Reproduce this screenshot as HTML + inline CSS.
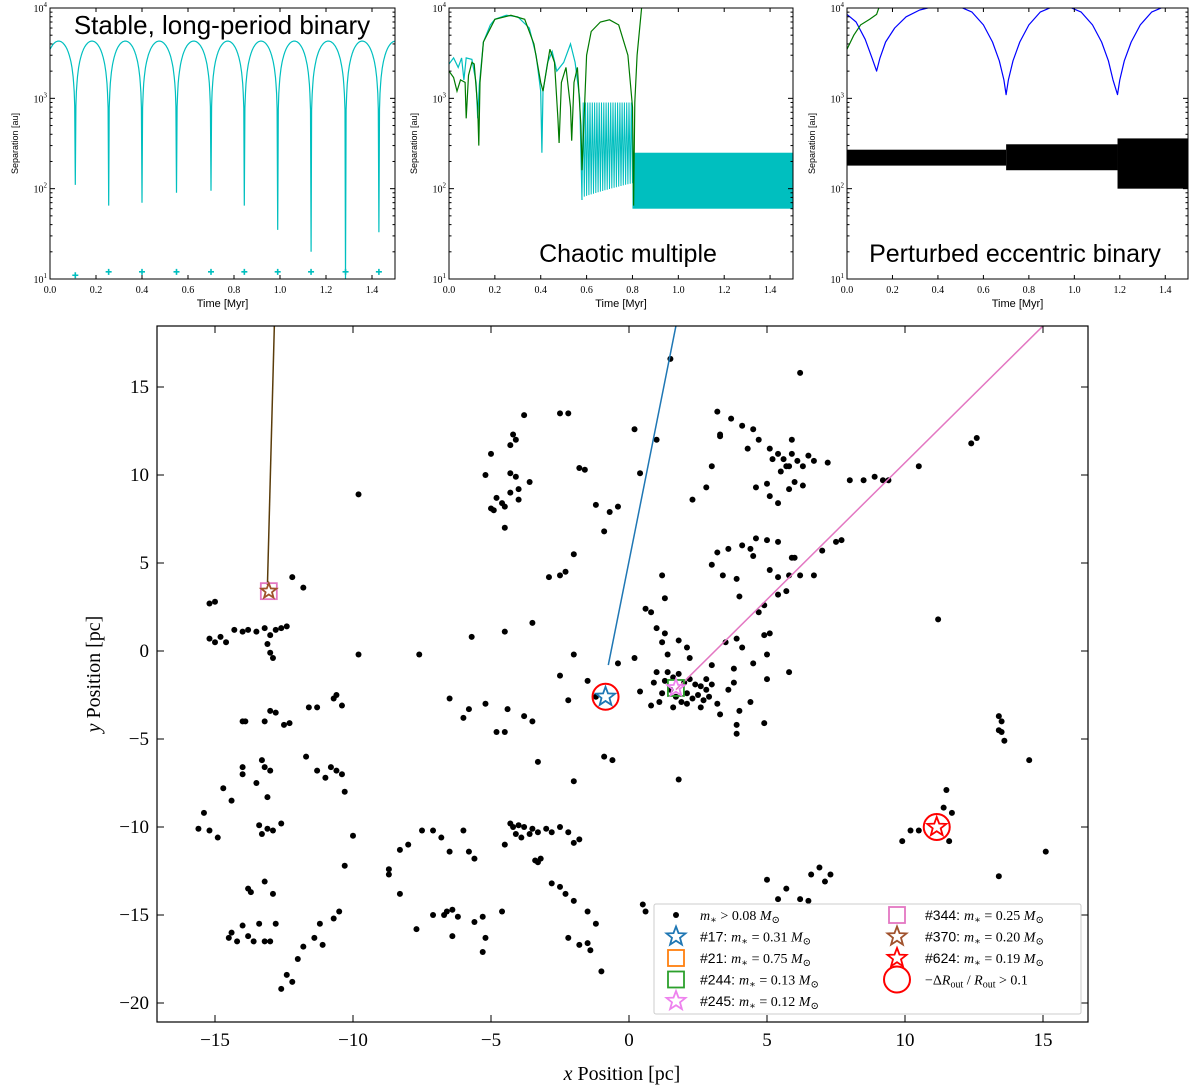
<!DOCTYPE html>
<html><head><meta charset="utf-8"><style>
body{margin:0;background:#fff}
svg{display:block}
.serif{font-family:"Liberation Serif","DejaVu Serif",serif}
.sans{font-family:"Liberation Sans","DejaVu Sans",sans-serif}
</style></head><body>
<svg id="fig" width="1200" height="1087" viewBox="0 0 1200 1087" xmlns="http://www.w3.org/2000/svg"></svg>
<script>
// ---------- data ----------
const p1MinTimes=[0.11,0.255,0.40,0.55,0.70,0.845,0.99,1.135,1.285,1.43];
const p1MinVals=[110,65,70,90,95,65,35,20,10,33];
const p1Max=4300;
const p1PlusVals=[11,12,12,12,12,12,12,12,12,12];
const p2CyanT=[0,0.02,0.04,0.055,0.065,0.075,0.1,0.118,0.125,0.132,0.15,0.18,0.2,0.25,0.3,0.35,0.38,0.4,0.405,0.41,0.43,0.45,0.47,0.5,0.53,0.55,0.57,0.58];
const p2CyanV=[2400,2800,2200,2800,1600,2800,2700,1500,600,1400,4200,6500,7500,8300,8000,6000,3000,1200,250,1200,2500,3300,2000,2500,4000,2500,1000,75];
const p2GreenT=[0,0.02,0.035,0.05,0.07,0.075,0.085,0.1,0.11,0.125,0.13,0.135,0.15,0.2,0.27,0.33,0.37,0.4,0.41,0.44,0.46,0.475,0.48,0.49,0.51,0.53,0.535,0.545,0.56,0.575,0.58,0.6,0.62,0.66,0.7,0.74,0.78,0.8,0.805,0.81,0.82,0.84];
const p2GreenV=[2000,1700,1200,1600,1500,600,1800,2500,2400,800,300,1500,4200,7500,8300,7500,4000,1500,1200,3500,2500,600,320,1500,2200,800,340,1500,2200,500,160,3000,5500,7000,7400,6500,3000,800,65,900,3000,10000];
const p2OscStart=0.58,p2OscEnd=0.8,p2OscCount=22,p2OscTop=900,p2OscBase0=80,p2OscBase1=115;
const p2BandT=[0.8,1.5],p2BandV=[60,250];
const p3BlueT=[0,0.04,0.08,0.11,0.13,0.145,0.17,0.21,0.26,0.32,0.37,0.5,0.55,0.6,0.64,0.67,0.69,0.70,0.71,0.73,0.76,0.8,0.85,0.9,0.98,1.03,1.08,1.12,1.15,1.17,1.19,1.20,1.22,1.25,1.29,1.34,1.39,1.5];
const p3BlueV=[8500,7000,4500,2800,2000,2800,4200,6000,8000,9500,10200,10200,9000,6500,4200,2600,1600,1100,1600,2600,4200,6500,9000,10200,10200,9000,6500,4200,2600,1600,1100,1600,2600,4200,6500,9000,10200,10200];
const p3GreenT=[0,0.03,0.06,0.1,0.13,0.14];
const p3GreenV=[3500,5000,6500,7500,8500,10000];
const p3BandStart=[0,0.7,1.19],p3BandEnd=[0.7,1.19,1.5],p3BandLo=[180,160,100],p3BandHi=[270,310,360];
const stars=[[-15.2,0.7],[-15,0.5],[-14.8,0.8],[-14.6,0.5],[-14.3,1.2],[-14,1.1],[-13.8,1.2],[-13.5,1.1],[-13.2,1.3],[-13,0.9],[-12.8,1.2],[-12.6,1.3],[-12.4,1.4],[-13.1,0.4],[-13,-0.1],[-12.9,-0.4],[-15,2.8],[-15.2,2.7],[-12.2,4.2],[-11.8,3.6],[-14,-4],[-13.9,-4],[-13.2,-4],[-13,-3.4],[-12.8,-3.5],[-12.5,-4.2],[-12.3,-4.1],[-11.6,-3.2],[-11.3,-3.2],[-10.7,-2.7],[-10.6,-2.5],[-10.4,-3.1],[-9.8,-0.2],[-14,-6.6],[-14,-7],[-13.3,-6.2],[-13.2,-6.6],[-13,-6.8],[-14.7,-7.8],[-14.4,-8.5],[-11.7,-6],[-11.3,-6.8],[-11,-7.2],[-10.8,-6.6],[-10.6,-6.8],[-10.4,-7],[-10.3,-8],[-13.5,-7.5],[-13.1,-8.3],[-10,-10.5],[-15.6,-10.1],[-15.4,-9.2],[-15.2,-10.2],[-14.9,-10.6],[-13.4,-9.9],[-13.3,-10.4],[-13.1,-10.1],[-12.9,-10.2],[-12.6,-9.8],[-10.3,-12.2],[-10.5,-14.8],[-10.7,-15.2],[-11.2,-15.5],[-11.4,-16.3],[-11.1,-16.7],[-11.8,-16.8],[-12,-17.5],[-12.4,-18.4],[-12.6,-19.2],[-12.2,-18.8],[-13,-16.5],[-13.2,-16.5],[-13.4,-15.5],[-12.8,-15.5],[-13.8,-13.5],[-13.7,-13.7],[-13.2,-13.1],[-12.9,-13.8],[-14.4,-16],[-14.5,-16.3],[-14.2,-16.5],[-14,-15.6],[-13.8,-16.2],[-13.6,-16.5],[-8.7,-12.4],[-8.7,-12.7],[-8.3,-11.3],[-8,-11],[-7.5,-10.2],[-7.1,-10.2],[-6.8,-10.6],[-6.5,-11.4],[-6,-10.2],[-5.8,-11.4],[-5.6,-11.8],[-4.5,-11],[-4.2,-10],[-4,-9.9],[-3.8,-10],[-3.6,-10.4],[-3.5,-10.1],[-3.3,-10.3],[-3,-10.1],[-2.8,-10.3],[-2.2,-10.3],[-2,-10.9],[-1.8,-10.7],[-2.5,-10],[-4.3,-9.8],[-4.1,-10.4],[-3.9,-10.6],[-3.4,-11.9],[-3.2,-11.8],[-3.3,-12],[-6.6,-14.8],[-6.7,-15],[-6.4,-14.7],[-6.2,-15.1],[-7.1,-15],[-7.7,-15.8],[-8.3,-13.8],[-5.3,-15.1],[-4.6,-14.8],[-5.6,-15.4],[-5.2,-16.3],[-5.3,-17.1],[-6.4,-16.2],[-2.8,-13.2],[-2.5,-13.4],[-2.3,-13.8],[-2,-14.2],[-1.5,-14.8],[-1.2,-15.5],[-2.2,-16.3],[-1.8,-16.7],[-1.5,-16.6],[-1.4,-17],[-1,-18.2],[0.5,-14.4],[0.6,-14.8],[-0.9,-6],[-0.6,-6.2],[-2,-7.4],[-3.3,-6.3],[-6.5,-2.7],[-6,-3.8],[-5.8,-3.3],[-5.2,-3],[-4.8,-4.6],[-4.5,-4.6],[-4.4,-3.3],[-3.8,-3.7],[-3.5,-4],[-7.6,-0.2],[-5.7,0.8],[-4.5,1.1],[-3.5,1.6],[-2,-0.2],[-2.5,-1.4],[-2.2,-2.8],[-2.9,4.2],[-2.5,4.3],[-2.3,4.5],[-2,5.5],[-4.5,7],[-4.9,8],[-4.5,8.2],[-4.3,10.1],[-4.1,9.9],[-4,9.2],[-4.3,9],[-4.6,8.4],[-4.8,8.7],[-5,8.1],[-4,8.6],[-3.6,9.6],[-5.2,10],[-5,11.2],[-4.3,11.7],[-4.2,12.3],[-4.1,12],[-3.8,13.4],[-2.5,13.5],[-2.2,13.5],[-9.8,8.9],[-1.8,10.4],[-1.6,10.3],[-1.2,8.3],[-0.7,7.9],[-0.9,6.8],[-0.4,8.2],[0.2,12.6],[0.4,10.1],[1.4,-1.2],[1.6,-1.5],[1.8,-1.3],[2,-1.8],[2.2,-1.6],[2.4,-1.9],[2.6,-2],[2.8,-2.2],[1.5,-2.2],[1.7,-2.6],[1.9,-2.9],[2.1,-2.4],[2.3,-2.7],[2.5,-2.5],[2.7,-2.8],[2.9,-2.6],[1.2,-2.4],[1.3,-1.7],[2.1,-3],[2.6,-3.2],[3.2,-3],[3.3,-3.6],[1.6,-3.2],[2.8,-1.6],[3,-1.9],[0.9,-1.8],[0.8,-3.1],[1.1,-2.9],[1.4,-0.2],[1.2,0.5],[1.3,1],[1,1.3],[0.8,2.2],[1.3,3],[1.2,4.3],[0.6,2.4],[0.2,-0.4],[-0.4,-0.7],[-1.5,-1.7],[-1.2,-2.6],[0.4,-2.3],[1,-1.2],[1.8,0.6],[2.1,0.2],[2.2,-0.4],[3,-0.8],[3.5,0.5],[3.9,0.7],[4.1,0.2],[4.5,-0.7],[3.8,-1],[3.6,-2.2],[4.4,-2.9],[4,-3.4],[3.8,-1.8],[5,-1.6],[5.8,-1.2],[5,-0.2],[4.9,0.9],[5.1,1],[4.7,2.2],[4.9,2.6],[4,3.1],[5.4,3.2],[5.7,3.4],[3.9,4.1],[3.4,4.3],[5.4,4.2],[5.1,4.6],[5.8,4.3],[4.5,5.4],[4.4,5.8],[3.6,5.8],[4.1,6],[4.6,6.4],[5,6.3],[5.4,6.2],[5.9,5.3],[6,5.3],[6.2,4.3],[6.7,4.3],[7,5.7],[7.5,6.2],[7.7,6.3],[3,4.9],[3.2,5.6],[3.9,-4.2],[3.9,-4.7],[4.9,-4.1],[1.8,-7.3],[2.3,8.6],[2.8,9.3],[3,10.5],[3.3,12.2],[3.2,13.6],[3.7,13.2],[3.3,12.3],[4.1,12.8],[4.5,12.6],[5.1,11.5],[5.2,10.9],[4.7,12],[5.4,11.2],[5.6,10.9],[5.7,10.5],[5.9,11.2],[5.8,10.5],[6.1,10.8],[6.3,10.5],[6.5,11.1],[6.7,10.8],[5.5,10.2],[6,9.6],[6.3,9.4],[5.8,9.2],[5,9.5],[4.6,9.3],[5.1,8.8],[5.4,8.4],[5.9,12],[4.3,11.5],[6.2,15.8],[7.2,10.7],[8,9.7],[8.5,9.7],[8.9,9.9],[9.2,9.7],[9.4,9.7],[12.4,11.8],[12.6,12.1],[10.5,10.5],[1.5,16.6],[1,12],[11.2,1.8],[13.4,-3.7],[13.5,-4],[13.4,-4.5],[13.6,-5.1],[13.5,-4.6],[14.5,-6.2],[11.5,-7.9],[11.4,-8.9],[11.7,-9.2],[10.2,-10.2],[10.5,-10.2],[9.9,-10.8],[11.6,-10.8],[13.4,-12.8],[15.1,-11.4],[5,-13],[5.7,-13.5],[5.4,-14.1],[6.2,-14.1],[6.6,-12.7],[6.9,-12.3],[7.3,-12.7],[7.1,-13.1],[6.8,-15.5],[5,-14.8],[6.5,-14.2]];
const trackBlue=[[-0.75,-0.8],[1.7,18.47]];
const trackPink=[[1.7,-2.2],[15,18.47]];
const trackBrown=[[-13.1,3.75],[-12.85,18.47]];
const xTicks=[-15,-10,-5,0,5,10,15];
const yTicks=[15,10,5,0,-5,-10,-15,-20];
const tTicks=[0,0.2,0.4,0.6,0.8,1.0,1.2,1.4];
const tTickLabels=["0.0","0.2","0.4","0.6","0.8","1.0","1.2","1.4"];

// ---------- helpers ----------
const NS="http://www.w3.org/2000/svg",svg=document.getElementById('fig');
function mk(tag,attrs,parent,txt){const e=document.createElementNS(NS,tag);for(const k in attrs)e.setAttribute(k,attrs[k]);if(txt!==undefined)e.textContent=txt;(parent||svg).appendChild(e);return e;}
function group(name){const g=mk('g',{});return g;}

// ---------- top panels ----------
const panels=[{x0:50,x1:395,name:'panel-stable'},{x0:449,x1:793,name:'panel-chaotic'},{x0:847,x1:1188,name:'panel-perturbed'}];
const PY0=8,PY1=279;
function px(p,t){return p.x0+(t/1.5)*(p.x1-p.x0);}
function py(v){const l=Math.log10(Math.max(v,10));return PY1-(Math.min(l,4.02)-1)/3*(PY1-PY0);}
function pathFrom(p,T,V){return T.map((t,i)=>(i?'L':'M')+px(p,t).toFixed(1)+','+py(V[i]).toFixed(1)).join('');}
panels.forEach((p,pi)=>{
  const g=group(p.name+'-axes');
  const clip=mk('clipPath',{id:'c'+pi},g);mk('rect',{x:p.x0,y:PY0,width:p.x1-p.x0,height:PY1-PY0},clip);
  p.plot=mk('g',{'clip-path':'url(#c'+pi+')'},g);
  mk('rect',{x:p.x0,y:PY0,width:p.x1-p.x0,height:PY1-PY0,fill:'none',stroke:'#000','stroke-width':1},g);
  tTicks.forEach((t,i)=>{const x=px(p,t);mk('line',{x1:x,x2:x,y1:PY1,y2:PY1-4,stroke:'#000'},g);mk('line',{x1:x,x2:x,y1:PY0,y2:PY0+4,stroke:'#000'},g);
    const tl=mk('text',{x:x,y:PY1+14,'font-size':10,'text-anchor':'middle',class:'serif'},g,tTickLabels[i]);});
  for(let d=1;d<=4;d++){const y=py(Math.pow(10,d));mk('line',{x1:p.x0,x2:p.x0+5,y1:y,y2:y,stroke:'#000'},g);mk('line',{x1:p.x1,x2:p.x1-5,y1:y,y2:y,stroke:'#000'},g);
    const tl=mk('text',{x:p.x0-3,y:y+4,'font-size':10,'text-anchor':'end',class:'serif'},g);
    tl.appendChild(document.createTextNode('10'));mk('tspan',{dy:-5,'font-size':7},tl,String(d));
    if(d<4)for(let m=2;m<10;m++){const ym=py(m*Math.pow(10,d));mk('line',{x1:p.x0,x2:p.x0+2.5,y1:ym,y2:ym,stroke:'#000'},g);mk('line',{x1:p.x1,x2:p.x1-2.5,y1:ym,y2:ym,stroke:'#000'},g);}}
  const xl=mk('text',{x:(p.x0+p.x1)/2,y:PY1+28,'font-size':11,'text-anchor':'middle',class:'sans'},g,'Time [Myr]');
  const yl=mk('text',{x:0,y:0,'font-size':9,'text-anchor':'middle',class:'sans',transform:`translate(${p.x0-32},${(PY0+PY1)/2}) rotate(-90)`},g,'Separation [au]');
});
// panel 1
(function(){const p=panels[0];let d='';
  const seg=[-0.035].concat(p1MinTimes).concat([1.575]);
  for(let k=0;k<seg.length-1;k++){const a=seg[k],b=seg[k+1];const va=k==0?p1MinVals[0]:p1MinVals[k-1],vb=k<p1MinVals.length?p1MinVals[k]:p1MinVals[0];
    for(let j=0;j<=60;j++){const f=j/60,t=a+(b-a)*f;const s=Math.sin(Math.PI*f);const lo=f<0.5?va:vb;const v=lo+(p1Max-lo)*Math.pow(s,0.6);
      if(t<0||t>1.5)continue;d+=(d?'L':'M')+px(p,t).toFixed(1)+','+py(v).toFixed(1);}}
  const c=mk('path',{d:d,fill:'none',stroke:'#00bfbf','stroke-width':1.2},p.plot);
  p1MinTimes.forEach((t,i)=>{const x=px(p,t),y=py(p1PlusVals[i]);const m=mk('path',{d:`M${x-3},${y}h6M${x},${y-3}v6`,stroke:'#00bfbf','stroke-width':1.6},p.plot);});
  const t=mk('text',{x:222,y:34,'font-size':26,'text-anchor':'middle',class:'sans'},svg,'Stable, long-period binary');
})();
// panel 2
(function(){const p=panels[1];
  const b=mk('rect',{x:px(p,p2BandT[0]),y:py(p2BandV[1]),width:px(p,p2BandT[1])-px(p,p2BandT[0]),height:py(p2BandV[0])-py(p2BandV[1]),fill:'#00bfbf'},p.plot);
  let d='';for(let k=0;k<p2OscCount;k++){const t0=p2OscStart+(p2OscEnd-p2OscStart)*k/p2OscCount,t1=p2OscStart+(p2OscEnd-p2OscStart)*(k+0.5)/p2OscCount;const base=p2OscBase0+(p2OscBase1-p2OscBase0)*k/p2OscCount;
    d+=(d?'L':'M')+px(p,t0).toFixed(1)+','+py(base).toFixed(1)+'L'+px(p,t1).toFixed(1)+','+py(p2OscTop).toFixed(1);}
  d+='L'+px(p,p2OscEnd)+','+py(p2OscBase1);
  const o=mk('path',{d:d,fill:'none',stroke:'#00bfbf','stroke-width':1},p.plot);
  const c=mk('path',{d:pathFrom(p,p2CyanT,p2CyanV),fill:'none',stroke:'#00bfbf','stroke-width':1.2},p.plot);
  const g=mk('path',{d:pathFrom(p,p2GreenT,p2GreenV),fill:'none',stroke:'#007a00','stroke-width':1.2},p.plot);
  const t=mk('text',{x:628,y:262,'font-size':25,'text-anchor':'middle',class:'sans'},svg,'Chaotic multiple');
})();
// panel 3
(function(){const p=panels[2];
  p3BandStart.forEach((s,i)=>{const r=mk('rect',{x:px(p,s),y:py(p3BandHi[i]),width:px(p,p3BandEnd[i])-px(p,s),height:py(p3BandLo[i])-py(p3BandHi[i]),fill:'#000'},p.plot);});
  const bl=mk('path',{d:pathFrom(p,p3BlueT,p3BlueV),fill:'none',stroke:'#0000ff','stroke-width':1.2,'stroke-linejoin':'round'},p.plot);
  const g=mk('path',{d:pathFrom(p,p3GreenT,p3GreenV),fill:'none',stroke:'#007a00','stroke-width':1.2},p.plot);
  const t=mk('text',{x:1015,y:262,'font-size':25,'text-anchor':'middle',class:'sans'},svg,'Perturbed eccentric binary');
})();

// ---------- main scatter ----------
const MX0=157,MX1=1088,MY0=326,MY1=1022;
const X=x=>629+x*27.6, Y=y=>651-y*17.6;
const mg=group('position-map');
const mclip=mk('clipPath',{id:'mc'},mg);mk('rect',{x:MX0,y:MY0,width:MX1-MX0,height:MY1-MY0},mclip);
const mp=mk('g',{'clip-path':'url(#mc)'},mg);
stars.forEach(s=>{const c=mk('circle',{cx:X(s[0]),cy:Y(s[1]),r:3,fill:'#000'},mp);});
function track(tr,col,name){const l=mk('line',{x1:X(tr[0][0]),y1:Y(tr[0][1]),x2:X(tr[1][0]),y2:Y(tr[1][1]),stroke:col,'stroke-width':1.5},mp);}
track(trackBlue,'#1f77b4','track-17');track(trackPink,'#e377c2','track-245');track(trackBrown,'#5a3c0a','track-370');
function starPath(cx,cy,r){let d='';for(let i=0;i<10;i++){const a=-Math.PI/2+i*Math.PI/5,rr=i%2?r*0.42:r;d+=(i?'L':'M')+(cx+rr*Math.cos(a)).toFixed(1)+','+(cy+rr*Math.sin(a)).toFixed(1);}return d+'Z';}
function starM(x,y,col,name,r){const s=mk('path',{d:starPath(X(x),Y(y),r||10),fill:'none',stroke:col,'stroke-width':1.8},mp);}
function sqM(x,y,col,name){const s=mk('rect',{x:X(x)-8,y:Y(y)-8,width:16,height:16,fill:'none',stroke:col,'stroke-width':1.8},mp);}
function circM(x,y,name){const s=mk('circle',{cx:X(x),cy:Y(y),r:13,fill:'none',stroke:'#ff0000','stroke-width':2},mp);}
sqM(-13.05,3.4,'#e377c2','marker-344');starM(-13.05,3.4,'#a0522d','marker-370',8);
sqM(1.7,-2.1,'#2ca02c','marker-244');starM(1.7,-2.1,'#ee82ee','marker-245',9);
starM(-0.85,-2.6,'#1f77b4','marker-17');circM(-0.85,-2.6,'circle-17');
starM(11.15,-10,'#ff0000','marker-624');circM(11.15,-10,'circle-624');
mk('rect',{x:MX0,y:MY0,width:MX1-MX0,height:MY1-MY0,fill:'none',stroke:'#000','stroke-width':1.2},mg);
xTicks.forEach(v=>{const x=X(v);mk('line',{x1:x,x2:x,y1:MY1,y2:MY1-7,stroke:'#000'},mg);mk('line',{x1:x,x2:x,y1:MY0,y2:MY0+7,stroke:'#000'},mg);
  const t=mk('text',{x:x,y:MY1+24,'font-size':19,'text-anchor':'middle',class:'serif'},mg,v<0?'\u2212'+(-v):String(v));});
yTicks.forEach(v=>{const y=Y(v);mk('line',{x1:MX0,x2:MX0+7,y1:y,y2:y,stroke:'#000'},mg);mk('line',{x1:MX1,x2:MX1-7,y1:y,y2:y,stroke:'#000'},mg);
  const t=mk('text',{x:MX0-8,y:y+6,'font-size':19,'text-anchor':'end',class:'serif'},mg,v<0?'\u2212'+(-v):String(v));});
const xt=mk('text',{x:622,y:1080,'font-size':20,'text-anchor':'middle',class:'serif'},mg);
mk('tspan',{'font-style':'italic'},xt,'x');xt.appendChild(document.createTextNode(' Position [pc]'));
const yt=mk('text',{x:0,y:0,'font-size':20,'text-anchor':'middle',class:'serif',transform:'translate(100,674) rotate(-90)'},mg);
mk('tspan',{'font-style':'italic'},yt,'y');yt.appendChild(document.createTextNode(' Position [pc]'));

// ---------- legend ----------
const lg=group('legend');
mk('rect',{x:654,y:904,width:427,height:110,fill:'#fff',stroke:'#ccc','stroke-width':1,rx:2},lg);
const legL=[['dot','#000','','>','0.08'],['star','#1f77b4','#17: ','=','0.31'],['sq','#ff7f0e','#21: ','=','0.75'],['sq','#2ca02c','#244: ','=','0.13'],['star','#ee82ee','#245: ','=','0.12']];
const legR=[['sq','#e377c2','#344: ','=','0.25'],['star','#a0522d','#370: ','=','0.20'],['star','#ff0000','#624: ','=','0.19'],['circ','#ff0000','','','']];
function legEntry(mx,tx,y,e){const g=mk('g',{},lg);
  if(e[0]=='dot')mk('circle',{cx:mx,cy:y,r:3,fill:'#000'},g);
  if(e[0]=='star')mk('path',{d:starPath(mx,y,10),fill:'none',stroke:e[1],'stroke-width':1.8},g);
  if(e[0]=='sq')mk('rect',{x:mx-8,y:y-8,width:16,height:16,fill:'none',stroke:e[1],'stroke-width':1.8},g);
  if(e[0]=='circ')mk('circle',{cx:mx,cy:y,r:13,fill:'none',stroke:e[1],'stroke-width':2},g);
  const t=mk('text',{x:tx,y:y+5,'font-size':14,class:'serif'},g);
  if(e[0]=='circ'){t.appendChild(document.createTextNode('\u2212\u0394'));mk('tspan',{'font-style':'italic'},t,'R');mk('tspan',{'font-size':10,dy:3},t,'out');mk('tspan',{dy:-3},t,' / ');mk('tspan',{'font-style':'italic'},t,'R');mk('tspan',{'font-size':10,dy:3},t,'out');mk('tspan',{dy:-3},t,' > 0.1');return;}
  if(e[2])mk('tspan',{'font-family':'"Liberation Sans",sans-serif'},t,e[2]);
  mk('tspan',{'font-style':'italic'},t,'m');mk('tspan',{'font-size':10,dy:3},t,'\u2217');
  mk('tspan',{dy:-3},t,' '+e[3]+' '+e[4]+' ');mk('tspan',{'font-style':'italic'},t,'M');mk('tspan',{'font-size':10,dy:3},t,'\u2299');}
legL.forEach((e,i)=>legEntry(676,700,915+i*21.5,e));
legR.forEach((e,i)=>legEntry(897,925,915+i*21.5,e));
</script>
</body></html>
